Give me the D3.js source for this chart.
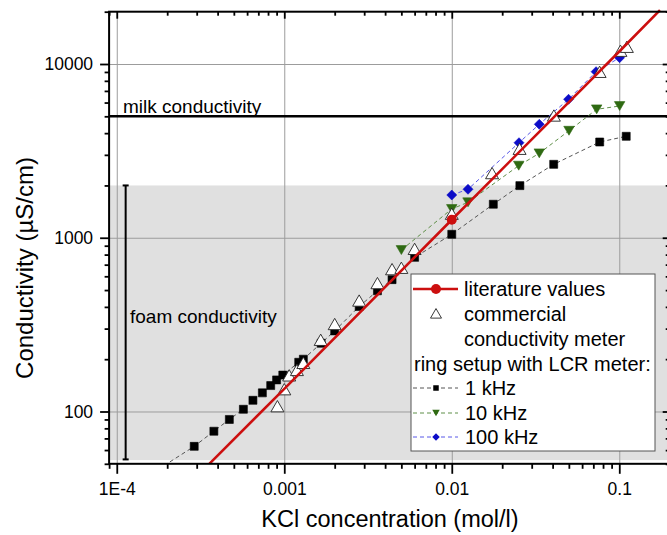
<!DOCTYPE html>
<html>
<head>
<meta charset="utf-8">
<script src="https://cdn.jsdelivr.net/npm/d3@7"></script>
<style>
  body { margin: 0; background: #fff; }
  text { font-family: "Liberation Sans", Arial, sans-serif; fill: #000; }
</style>
</head>
<body>
<svg id="chart" width="667" height="535"></svg>
<script>
// ---- data (KCl concentration in mol/l, conductivity in µS/cm) ----
const litConc   = [0.000357, 0.001, 0.01, 0.1, 0.175];
const litVal    = [50, 135, 1270, 11800, 20400];
const litPointConc = [0.01];
const litPointVal  = [1270];

const meterConc = [0.00091, 0.001, 0.00107, 0.00119, 0.0013, 0.00165, 0.002, 0.0028, 0.0036, 0.0044, 0.005, 0.006, 0.01, 0.0174, 0.0254, 0.0407, 0.0763, 0.1016, 0.111];
const meterVal  = [107, 134, 161, 173, 190, 258, 318, 434, 547, 658, 670, 861, 1371, 2350, 3243, 5040, 8994, 11890, 12530];

const khz1Conc = [0.00015, 0.00029, 0.00038, 0.00047, 0.00057, 0.00065, 0.00074, 0.00083, 0.0009, 0.00098, 0.00122, 0.0013, 0.00166, 0.002, 0.0028, 0.0036, 0.0044, 0.006, 0.01, 0.0177, 0.0255, 0.0406, 0.0764, 0.11];
const khz1Val  = [42, 63, 77, 90, 103, 116, 128, 141, 152, 162, 192, 200, 247, 291, 402, 495, 574, 771, 1047, 1559, 1995, 2646, 3557, 3837];

const khz10Conc = [0.005, 0.01, 0.0125, 0.0251, 0.0333, 0.0501, 0.0733, 0.1005];
const khz10Val  = [850, 1464, 1600, 2600, 3062, 4131, 5487, 5731];

const khz100Conc = [0.01, 0.0125, 0.0252, 0.0333, 0.0498, 0.0727, 0.1004];
const khz100Val  = [1762, 1901, 3524, 4498, 6266, 9031, 10871];

const milkLevel = 5000;
const foamBand = [52.5, 2000];
const foamBar = [53, 2000];
const foamBarConc = 0.000113;

const xMajor = [1e-4, 1e-3, 1e-2, 1e-1];
const xTickLabels = ["1E-4", "0.001", "0.01", "0.1"];
const yMajor = [100, 1000, 10000];
const yTickLabels = ["100", "1000", "10000"];

const legendLabels = ["literature values", "commercial", "conductivity meter", "ring setup with LCR meter:", "1 kHz", "10 kHz", "100 kHz"];

// ---- layout ----
const svg = d3.select("#chart");
const pLeft = 109.1, pRight = 669.7, pTop = 11.7, pBottom = 463.8;
const x = d3.scaleLog().domain([9e-5, 0.2]).range([pLeft, pRight]);
const y = d3.scaleLog().domain([50, 20000]).range([pBottom, pTop]);

const minorOf = (lo, hi, dom) => {
  const out = [];
  for (let e = lo; e <= hi; e++) for (let k = 2; k <= 9; k++) {
    const v = k * Math.pow(10, e);
    if (v >= dom[0] && v <= dom[1]) out.push(v);
  }
  return out;
};
const xMinor = minorOf(-5, -1, x.domain());
const yMinor = minorOf(1, 4, y.domain());

const C = {
  red: "#cc0f0f", green: "#2f6a12", greenLine: "#5f8f48",
  blue: "#0c0cc8", blueLine: "#5858e8", blackLine: "#555"
};

// foam conductivity band
svg.append("rect")
  .attr("x", pLeft).attr("width", pRight - pLeft)
  .attr("y", y(foamBand[1])).attr("height", y(foamBand[0]) - y(foamBand[1]))
  .attr("fill", "#e0e0e0");

// grid lines at the decades
svg.append("g").attr("transform", `translate(0,${pBottom})`)
  .call(d3.axisBottom(x).tickValues(xMajor).tickSize(-(pBottom - pTop)).tickFormat(""))
  .call(g => { g.select(".domain").remove(); g.selectAll("line").attr("stroke", "#9c9c9c").attr("stroke-width", 1); });
svg.append("g").attr("transform", `translate(${pLeft},0)`)
  .call(d3.axisLeft(y).tickValues(yMajor).tickSize(-(pRight - pLeft)).tickFormat(""))
  .call(g => { g.select(".domain").remove(); g.selectAll("line").attr("stroke", "#9c9c9c").attr("stroke-width", 1); });

// milk conductivity level
svg.append("line")
  .attr("x1", pLeft).attr("x2", pRight)
  .attr("y1", y(milkLevel)).attr("y2", y(milkLevel))
  .attr("stroke", "#000").attr("stroke-width", 2.6);
svg.append("text").attr("x", 123).attr("y", 112.5)
  .attr("font-size", 19).text("milk conductivity");

// foam conductivity range bar
const fx = x(foamBarConc);
const bar = svg.append("g").attr("stroke", "#000").attr("stroke-width", 2);
bar.append("line").attr("x1", fx).attr("x2", fx).attr("y1", y(foamBar[0])).attr("y2", y(foamBar[1]));
foamBar.forEach(v => bar.append("line").attr("x1", fx - 3).attr("x2", fx + 3).attr("y1", y(v)).attr("y2", y(v)));
svg.append("text").attr("x", 130).attr("y", 322.5)
  .attr("font-size", 19).text("foam conductivity");

// clipping for the data
svg.append("defs").append("clipPath").attr("id", "plotClip")
  .append("rect").attr("x", pLeft).attr("y", -20).attr("width", pRight - pLeft).attr("height", pBottom + 20);
const plot = svg.append("g").attr("clip-path", "url(#plotClip)");

const zip = (a, b) => a.map((v, i) => [v, b[i]]);
const line = d3.line().x(d => x(d[0])).y(d => y(d[1]));

const shapes = {
  square: s => `M${-s/2},${-s/2}h${s}v${s}h${-s}Z`,
  down: s => `M${-s/2},${-s*0.42}L${s/2},${-s*0.42}L0,${s*0.43}Z`,
  diamond: s => `M0,${-s/2}L${s/2},0L0,${s/2}L${-s/2},0Z`,
  up: s => `M0,${-s*0.45}L${s/2},${s*0.42}L${-s/2},${s*0.42}Z`
};

function series(conc, val, lineColor, shape, size, fill, stroke) {
  const pts = zip(conc, val);
  plot.append("path").datum(pts).attr("d", line)
    .attr("fill", "none").attr("stroke", lineColor).attr("stroke-width", 1)
    .attr("stroke-dasharray", "4,3");
  plot.append("g").selectAll("path").data(pts).join("path")
    .attr("transform", d => `translate(${x(d[0])},${y(d[1])})`)
    .attr("d", shapes[shape](size)).attr("fill", fill)
    .attr("stroke", stroke || fill).attr("stroke-width", 0.6);
}

series(khz1Conc, khz1Val, C.blackLine, "square", 8, "#000");
series(khz10Conc, khz10Val, C.greenLine, "down", 10.5, C.green);
series(khz100Conc, khz100Val, C.blueLine, "diamond", 10, C.blue);

// commercial conductivity meter (hollow triangles)
plot.append("g").selectAll("path").data(zip(meterConc, meterVal)).join("path")
  .attr("transform", d => `translate(${x(d[0])},${y(d[1])})`)
  .attr("d", shapes.up(13)).attr("fill", "#fff")
  .attr("stroke", "#222").attr("stroke-width", 0.9);

// literature values
plot.append("path").datum(zip(litConc, litVal)).attr("d", line)
  .attr("fill", "none").attr("stroke", C.red).attr("stroke-width", 2.6);
plot.append("g").selectAll("circle").data(zip(litPointConc, litPointVal)).join("circle")
  .attr("cx", d => x(d[0])).attr("cy", d => y(d[1])).attr("r", 5)
  .attr("fill", C.red);

// ---- axes ----
function styleAxis(g) {
  g.select(".domain").remove();
  g.selectAll("line").attr("stroke", "#000").attr("stroke-width", 1.8);
  g.selectAll("text").attr("font-size", 17.5).attr("fill", "#000")
    .style("font-family", '"Liberation Sans", Arial, sans-serif');
}
svg.append("g").attr("transform", `translate(0,${pBottom})`)
  .call(d3.axisBottom(x).tickValues(xMajor).tickSize(10).tickPadding(8.6).tickFormat((d, i) => xTickLabels[i]))
  .call(styleAxis);
svg.append("g").attr("transform", `translate(0,${pBottom})`)
  .call(d3.axisBottom(x).tickValues(xMinor).tickSize(5).tickFormat(""))
  .call(styleAxis);
svg.append("g").attr("transform", `translate(0,${pTop})`)
  .call(d3.axisTop(x).tickValues(xMajor).tickSize(-7).tickFormat(""))
  .call(styleAxis);
svg.append("g").attr("transform", `translate(0,${pTop})`)
  .call(d3.axisTop(x).tickValues(xMinor).tickSize(-4).tickFormat(""))
  .call(styleAxis);
svg.append("g").attr("transform", `translate(${pLeft},0)`)
  .call(d3.axisLeft(y).tickValues(yMajor).tickSize(9).tickPadding(7).tickFormat((d, i) => yTickLabels[i]))
  .call(styleAxis);
svg.append("g").attr("transform", `translate(${pLeft},0)`)
  .call(d3.axisLeft(y).tickValues(yMinor).tickSize(4.5).tickFormat(""))
  .call(styleAxis);
svg.append("g").attr("transform", `translate(${pRight},0)`)
  .call(d3.axisRight(y).tickValues(yMajor).tickSize(-7).tickFormat(""))
  .call(styleAxis);
svg.append("g").attr("transform", `translate(${pRight},0)`)
  .call(d3.axisRight(y).tickValues(yMinor).tickSize(-4).tickFormat(""))
  .call(styleAxis);

// frame
svg.append("rect").attr("x", pLeft).attr("y", pTop)
  .attr("width", pRight - pLeft).attr("height", pBottom - pTop)
  .attr("fill", "none").attr("stroke", "#000").attr("stroke-width", 2);

// axis titles
svg.append("text").attr("x", (262 + 518) / 2).attr("y", 527)
  .attr("text-anchor", "middle").attr("font-size", 23.5)
  .text("KCl concentration (mol/l)");
svg.append("text").attr("transform", "translate(33,268) rotate(-90)")
  .attr("text-anchor", "middle").attr("font-size", 24)
  .text("Conductivity (µS/cm)");

// ---- legend ----
const lg = svg.append("g");
lg.append("rect").attr("x", 411).attr("y", 274).attr("width", 244).attr("height", 177)
  .attr("fill", "#fff").attr("stroke", "#555").attr("stroke-width", 1);
const rowY = [289, 313.5, 339, 364, 388, 413, 437];
const symX = 436, lx1 = 413, lx2 = 458;
// literature values
lg.append("line").attr("x1", lx1).attr("x2", lx2).attr("y1", rowY[0]).attr("y2", rowY[0])
  .attr("stroke", C.red).attr("stroke-width", 2.6);
lg.append("circle").attr("cx", symX).attr("cy", rowY[0]).attr("r", 5).attr("fill", C.red);
// commercial meter
lg.append("path").attr("transform", `translate(${symX},${rowY[1]})`)
  .attr("d", shapes.up(11)).attr("fill", "#fff").attr("stroke", "#222").attr("stroke-width", 0.9);
// ring setup series
const legSeries = [
  [C.blackLine, "square", 5.5, "#000"],
  [C.greenLine, "down", 7.5, C.green],
  [C.blueLine, "diamond", 7.5, C.blue]
];
legSeries.forEach((s, i) => {
  const yy = rowY[4 + i];
  lg.append("line").attr("x1", lx1).attr("x2", lx2).attr("y1", yy).attr("y2", yy)
    .attr("stroke", s[0]).attr("stroke-width", 1).attr("stroke-dasharray", "4,3");
  lg.append("path").attr("transform", `translate(${symX},${yy})`)
    .attr("d", shapes[s[1]](s[2])).attr("fill", s[3]);
});
const textX = [464, 464, 464, 414, 465, 465, 465];
legendLabels.forEach((t, i) => {
  lg.append("text").attr("x", textX[i]).attr("y", rowY[i]).attr("dy", "0.36em")
    .attr("font-size", 20).text(t);
});
</script>
</body>
</html>
